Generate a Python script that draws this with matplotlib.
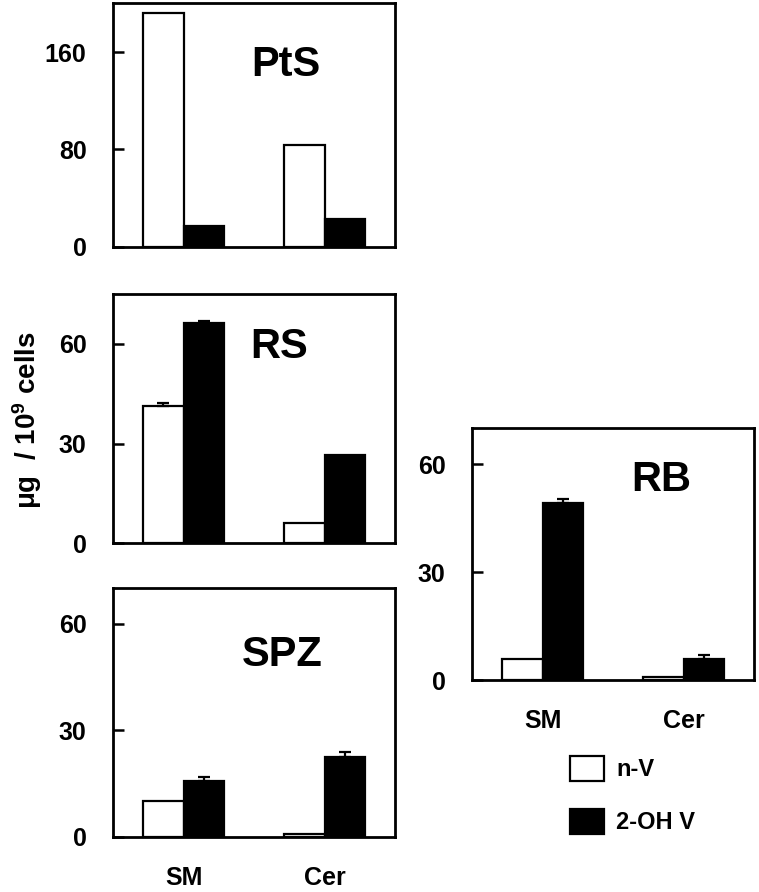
import matplotlib
matplotlib.use("Agg")
import matplotlib.pyplot as plt
import numpy as np
from matplotlib.patches import Patch

plt.rcParams['font.family'] = ['Liberation Sans', 'DejaVu Sans']
plt.rcParams['font.weight'] = 'bold'
plt.rcParams['mathtext.fontset'] = 'custom'
plt.rcParams['mathtext.rm'] = 'Liberation Sans:bold'
plt.rcParams['mathtext.bf'] = 'Liberation Sans:bold'
plt.rcParams['mathtext.default'] = 'bf'

categories = ["SM", "Cer"]
series_names = ["n-V", "2-OH V"]

pts_nv = [192, 84]
pts_oh = [17, 23]
pts_nv_err = [0, 0]
pts_oh_err = [0, 0]

rs_nv = [41.3, 6.2]
rs_oh = [66.2, 26.7]
rs_nv_err = [0.8, 0]
rs_oh_err = [0.8, 0]

spz_nv = [10.1, 0.9]
spz_oh = [15.6, 22.6]
spz_nv_err = [0, 0]
spz_oh_err = [1.3, 1.2]

rb_nv = [5.8, 0.9]
rb_oh = [49.1, 5.8]
rb_nv_err = [0, 0]
rb_oh_err = [1.2, 1.2]

W, H = 759, 892
fig = plt.figure(figsize=(W / 100, H / 100), dpi=100)

def px_axes(left, top, right, bottom):
    return fig.add_axes([left / W, 1 - bottom / H, (right - left) / W, (bottom - top) / H])

panels = [
    dict(name="PtS", box=(113, 3.5, 395, 246.7), nv=pts_nv, oh=pts_oh, nve=pts_nv_err, ohe=pts_oh_err,
         ylim=200, ticks=[0, 80, 160], title_xy=(0.613, 0.747), xlabels=False),
    dict(name="RS", box=(113, 294, 395, 543.3), nv=rs_nv, oh=rs_oh, nve=rs_nv_err, ohe=rs_oh_err,
         ylim=75, ticks=[0, 30, 60], title_xy=(0.589, 0.789), xlabels=False),
    dict(name="SPZ", box=(113, 588.3, 395, 836.7), nv=spz_nv, oh=spz_oh, nve=spz_nv_err, ohe=spz_oh_err,
         ylim=70, ticks=[0, 30, 60], title_xy=(0.60, 0.731), xlabels=True),
    dict(name="RB", box=(472, 428.3, 754, 680), nv=rb_nv, oh=rb_oh, nve=rb_nv_err, ohe=rb_oh_err,
         ylim=70, ticks=[0, 30, 60], title_xy=(0.67, 0.795), xlabels=True),
]

bw = 0.29
x = np.arange(len(categories))
for p in panels:
    ax = px_axes(*p["box"])
    ax.bar(x - bw / 2, p["nv"], bw, color="white", edgecolor="black", linewidth=1.6, zorder=2)
    ax.bar(x + bw / 2, p["oh"], bw, color="black", edgecolor="black", linewidth=1.6, zorder=2)
    for offs, vals, errs in ((-bw / 2, p["nv"], p["nve"]), (bw / 2, p["oh"], p["ohe"])):
        for xi, v, e in zip(x, vals, errs):
            if e > 0:
                ax.errorbar(xi + offs, v, yerr=[[0], [e]], fmt="none", ecolor="black",
                            elinewidth=1.6, capsize=4, capthick=1.6, zorder=3)
    ax.set_xlim(-0.5, 1.5)
    ax.set_ylim(0, p["ylim"])
    ax.set_yticks(p["ticks"])
    ax.tick_params(axis="y", direction="in", length=8, width=1.8, pad=19, labelsize=18)
    ax.set_xticks(x)
    if p["xlabels"]:
        ax.set_xticklabels(categories, fontsize=18, fontweight="bold")
        ax.tick_params(axis="x", length=0, pad=21)
    else:
        ax.set_xticklabels([])
        ax.tick_params(axis="x", length=0)
    for s in ax.spines.values():
        s.set_linewidth(2.0)
    ax.text(p["title_xy"][0], p["title_xy"][1], p["name"], transform=ax.transAxes,
            ha="center", va="center", fontsize=30, fontweight="bold")

fig.text(27 / W, 1 - 420 / H, "μg  / 10$^{9}$ cells", rotation=90, ha="center", va="center",
         fontsize=20, fontweight="bold")

handles = [Patch(facecolor="white", edgecolor="black", linewidth=1.6),
           Patch(facecolor="black", edgecolor="black", linewidth=1.6)]
fig.legend(handles, series_names, loc="upper left", bbox_to_anchor=(570 / W, 1 - 756 / H),
           frameon=False, handlelength=1.45, handleheight=1.25,
           handletextpad=0.5, labelspacing=1.15, borderpad=0, borderaxespad=0,
           prop={"weight": "bold", "size": 17})

fig.savefig("out.png", dpi=100)
